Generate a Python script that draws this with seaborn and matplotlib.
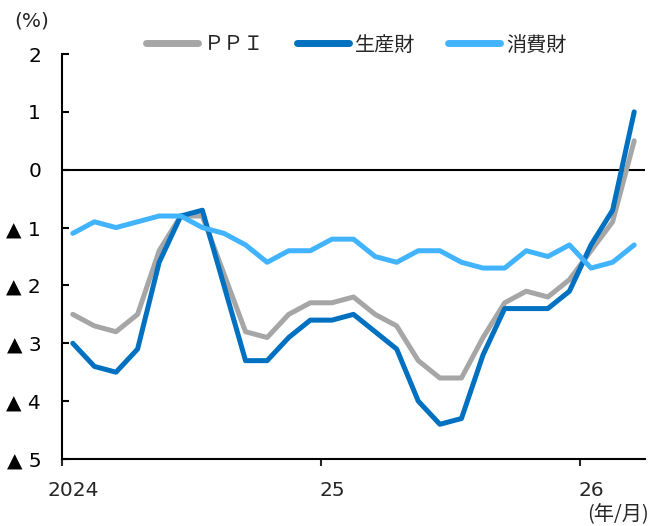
import numpy as np
import pandas as pd
import matplotlib
matplotlib.use("Agg")
import matplotlib.pyplot as plt
import seaborn as sns

# 2024年1月〜2026年3月 (月次, 前年比 %)
months = pd.period_range("2024-01", "2026-03", freq="M").astype(str).tolist()

ppi = [-2.5, -2.7, -2.8, -2.5, -1.4, -0.8, -0.8, -1.8, -2.8, -2.9, -2.5, -2.3,
       -2.3, -2.2, -2.5, -2.7, -3.3, -3.6, -3.6, -2.9, -2.3, -2.1, -2.2, -1.9,
       -1.4, -0.9, 0.5]
seisanzai = [-3.0, -3.4, -3.5, -3.1, -1.6, -0.8, -0.7, -2.0, -3.3, -3.3, -2.9, -2.6,
             -2.6, -2.5, -2.8, -3.1, -4.0, -4.4, -4.3, -3.2, -2.4, -2.4, -2.4, -2.1,
             -1.3, -0.7, 1.0]
shohizai = [-1.1, -0.9, -1.0, -0.9, -0.8, -0.8, -1.0, -1.1, -1.3, -1.6, -1.4, -1.4,
            -1.2, -1.2, -1.5, -1.6, -1.4, -1.4, -1.6, -1.7, -1.7, -1.4, -1.5, -1.3,
            -1.7, -1.6, -1.3]

series_names = ["ＰＰＩ", "生産財", "消費財"]
colors = ["#A6A6A6", "#0070C0", "#42B4FF"]

y_ticks = [2, 1, 0, -1, -2, -3, -4, -5]
y_labels = ["2", "1", "0", "▲ 1", "▲ 2", "▲ 3", "▲ 4", "▲ 5"]
x_labels = ["2024", "25", "26"]

df = pd.DataFrame({"month": months * 3,
                   "idx": list(range(len(months))) * 3,
                   "value": ppi + seisanzai + shohizai,
                   "series": np.repeat(series_names, len(months))})

sns.set_style("ticks")
plt.rcParams["font.family"] = ["DejaVu Sans", "Noto Sans CJK JP"]

fig = plt.figure(figsize=(6.55, 5.26), dpi=100)
ax = fig.add_axes([62 / 655, 1 - 459 / 526, (645 - 62) / 655, (459 - 54) / 526])

sns.lineplot(data=df, x="idx", y="value", hue="series", hue_order=series_names,
             palette=colors, linewidth=3.6, ax=ax, legend=False)

ax.axhline(0, color="black", linewidth=1.5, zorder=1)

n = len(months)
ax.set_xlim(-0.5, n - 0.5)
ax.set_ylim(-5, 2)

ax.set_yticks(y_ticks)
ax.set_yticklabels(y_labels, fontsize=14.5)
ax.tick_params(axis="y", direction="in", length=5, width=1.5, pad=15, colors="black")

# 年の区切り (目盛り) と年ラベル (各年1月の位置)
ax.set_xticks([-0.5, 11.5, 23.5])
ax.set_xticklabels([])
ax.set_xticks([0, 12, 24], minor=True)
ax.set_xticklabels(x_labels, minor=True, fontsize=14.5)
ax.tick_params(axis="x", which="major", direction="out", length=5, width=1.5)
ax.tick_params(axis="x", which="minor", length=0, pad=16)

ax.set_xlabel("")
ax.set_ylabel("")

for side in ["top", "right"]:
    ax.spines[side].set_visible(False)
for side in ["left", "bottom"]:
    ax.spines[side].set_linewidth(1.5)
    ax.spines[side].set_color("black")

fig.text(32 / 655, 1 - 21 / 526, "(%)", fontsize=14.5, ha="center", va="center")
fig.text(618 / 655, 1 - 515 / 526, "(年/月)", fontsize=14.5, ha="center", va="center",
         family=["Noto Sans CJK JP", "DejaVu Sans"])

handles = [plt.Line2D([], [], color=c, linewidth=5, solid_capstyle="round") for c in colors]
fig.legend(handles, series_names, loc="center", bbox_to_anchor=(356 / 655, 1 - 45 / 526),
           ncol=3, frameon=False, handlelength=2.6, handletextpad=0.3, columnspacing=1.6,
           prop={"family": ["Noto Sans CJK JP"], "size": 14.5})

fig.savefig("out.png", dpi=100)
